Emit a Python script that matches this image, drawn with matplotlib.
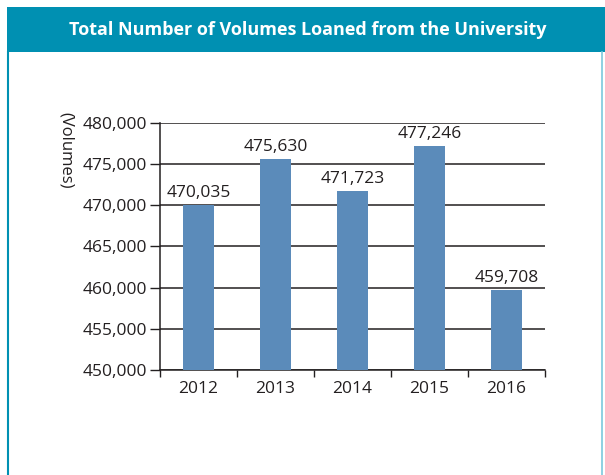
import matplotlib.pyplot as plt
from matplotlib.patches import Rectangle
from matplotlib.lines import Line2D

years = ['2012', '2013', '2014', '2015', '2016']
volumes = [470035, 475630, 471723, 477246, 459708]
y_ticks = [450000, 455000, 460000, 465000, 470000, 475000, 480000]

TEAL = '#0090B2'
BAR = '#5B8BBA'
INK = '#231F20'

plt.rcParams['font.family'] = ['Open Sans', 'DejaVu Sans']

fig = plt.figure(figsize=(6.05, 4.75), dpi=100)

# header band and frame
fig.patches.append(Rectangle((7 / 605, 1 - 52 / 475), 1 - 7 / 605, 45 / 475,
                             transform=fig.transFigure, facecolor=TEAL, edgecolor='none'))
fig.lines.append(Line2D([7.5 / 605, 7.5 / 605], [0, 1 - 52 / 475],
                        transform=fig.transFigure, color=TEAL, lw=1.5))
fig.lines.append(Line2D([602 / 605, 602 / 605], [0, 1 - 52 / 475],
                        transform=fig.transFigure, color='#7CC8DD', lw=1.2))
fig.text(0.508, 1 - 30 / 475, 'Total Number of Volumes Loaned from the University',
         ha='center', va='center', color='white', fontsize=13, fontweight='bold')

ax = fig.add_axes([160 / 605, 1 - 370 / 475, 385 / 605, 247 / 475])
x = range(len(years))
ax.bar(x, volumes, width=0.4, color=BAR, zorder=3)
for xi, v in zip(x, volumes):
    ax.annotate(f'{v:,}', (xi, v), xytext=(0, 3), textcoords='offset points',
                ha='center', va='bottom', fontsize=12.5, color=INK, zorder=4)

ax.set_ylim(450000, 480000)
ax.set_xlim(-0.5, len(years) - 0.5)
ax.set_yticks(y_ticks)
ax.set_yticklabels([f'{t:,}' for t in y_ticks])
ax.yaxis.grid(True, color=INK, lw=1.1, zorder=1)
ax.set_axisbelow(True)

ax.set_xticks([i - 0.5 for i in range(len(years) + 1)])
ax.set_xticklabels([])
ax.set_xticks(list(x), minor=True)
ax.set_xticklabels(years, minor=True)
ax.tick_params(axis='x', which='major', length=5, direction='out', color=INK, width=1)
ax.tick_params(axis='x', which='minor', length=0, pad=8, labelsize=12.5, labelcolor=INK)
ax.tick_params(axis='y', length=7, direction='out', color=INK, width=1,
               labelsize=12.5, labelcolor=INK, pad=2.5)

for s in ['top', 'right']:
    ax.spines[s].set_visible(False)
for s in ['left', 'bottom']:
    ax.spines[s].set_color(INK)
    ax.spines[s].set_linewidth(1.1)

fig.text(66 / 605, 1 - 150 / 475, '(Volumes)', rotation=270, ha='center', va='center',
         fontsize=12, color=INK)

fig.savefig('out.png', dpi=100)
